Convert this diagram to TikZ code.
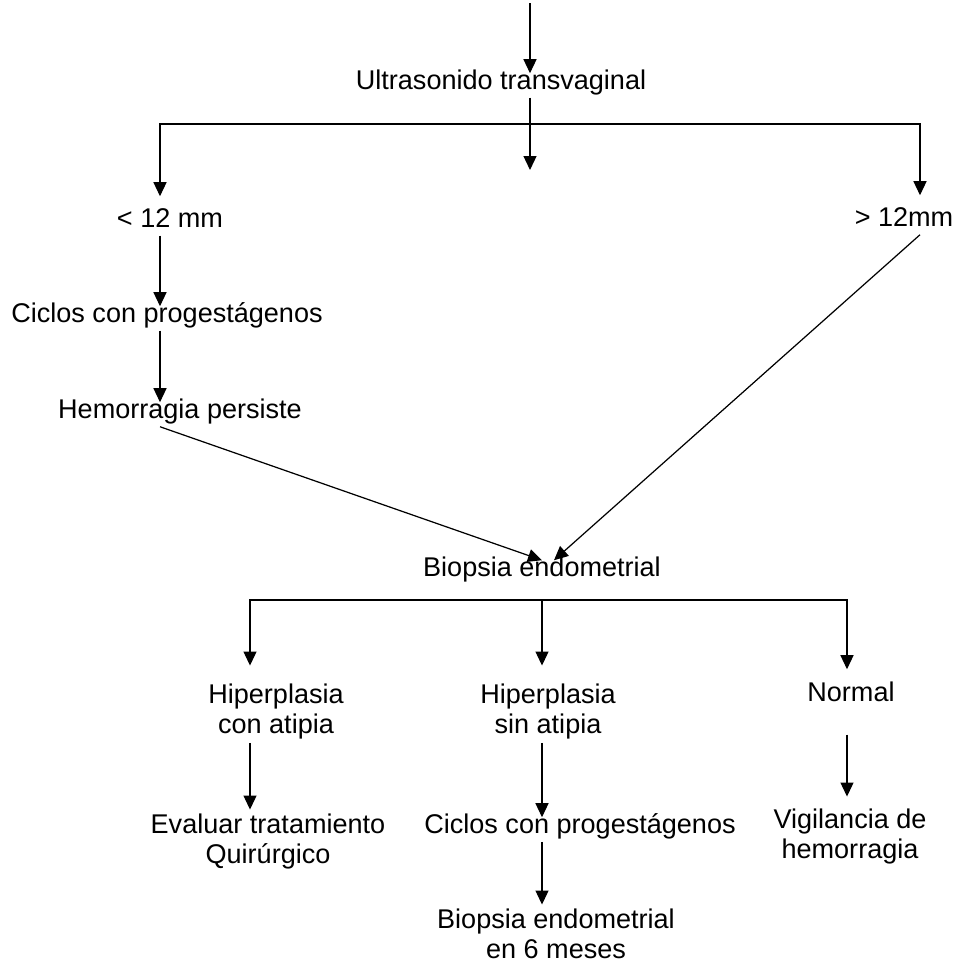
\documentclass[tikz,border=0pt]{standalone}
\usepackage{fontspec}
\setmainfont{Liberation Sans}
\usepackage{tikz}
\usetikzlibrary{arrows.meta,positioning}

\begin{document}
\begin{tikzpicture}[x=0.02cm, y=-0.02cm,
  every node/.style={font=\fontsize{15.4}{16.8}\selectfont},
  paso/.style={anchor=base, inner sep=0.08cm, text height=0.65em, text depth=0.25em},
  dos/.style={anchor=base, inner sep=0.08cm, align=center},
  arr/.style={-{Triangle[length=2.8mm,width=2.6mm]}, line width=0.7pt},
  barra/.style={line width=0.7pt},
]
\useasboundingbox (0,0) rectangle (956,964);

% Lanes of the vertical arrows
\coordinate (inicio) at (530,3);
\coordinate (rama1) at (530,124);
\coordinate (centro) at (530,170);
\coordinate (ejeI) at (160,0);
\coordinate (ejeD) at (920,0);
\coordinate (rama2) at (542,600);
\coordinate (ejeA) at (250,0);
\coordinate (ejeB) at (542,0);
\coordinate (ejeC) at (847,0);

% Upper part
\node[paso] (ultra) at (501,89) {Ultrasonido transvaginal};
\node[paso] (menor) at (170,227) {< 12 mm};
\node[paso] (mayor) at (904,226) {> 12mm};
\node[paso] (ciclos) at (167,322) {Ciclos con progestágenos};
\node[paso] (hemo) at (180,418) {Hemorragia persiste};
\node[paso] (biopsia) at (542,576) {Biopsia endometrial};

% Lower part (two-line nodes sit on their last line)
\node[dos] (conat) at (276,733) {Hiperplasia\\con atipia};
\node[dos] (sinat) at (548,733) {Hiperplasia\\sin atipia};
\node[paso] (normal) at (851,701) {Normal};
\node[dos] (evaluar) at (268,863) {Evaluar tratamiento\\Quirúrgico};
\node[paso] (ciclosb) at (580,833) {Ciclos con progestágenos};
\node[dos] (vigil) at (850,858) {Vigilancia de\\hemorragia};
\node[dos] (biopsiab) at (556,958) {Biopsia endometrial\\en 6 meses};

% Arrows
\draw[arr] (inicio) -- (ultra.north -| inicio);
\draw[barra] (ultra.south -| inicio) -- (rama1);
\draw[arr] (rama1) -- (centro);
\draw[arr, shorten >=0.3cm] (rama1) -| (menor.north -| ejeI);
\draw[arr, shorten >=0.3cm] (rama1) -| (mayor.north -| ejeD);
\draw[arr] (menor.south -| ejeI) -- (ciclos.north -| ejeI);
\draw[arr] (ciclos.south -| ejeI) -- (hemo.north -| ejeI);
\draw[arr] ([xshift=-0.4cm]hemo.south) -- (biopsia.north);
\draw[arr] (mayor.south -| ejeD) -- ([xshift=0.24cm]biopsia.north);

\draw[arr, shorten >=0.28cm] (rama2) -| (conat.north -| ejeA);
\draw[arr, shorten >=0.28cm] (rama2) -- (sinat.north -| ejeB);
\draw[arr, shorten >=0.32cm] (rama2) -| (normal.north -| ejeC);
\draw[arr] (conat.south -| ejeA) -- (evaluar.north -| ejeA);
\draw[arr] (sinat.south -| ejeB) -- (ciclosb.north -| ejeB);
\draw[arr, shorten <=0.5cm, shorten >=0.16cm] (normal.south -| ejeC) -- (vigil.north -| ejeC);
\draw[arr] (ciclosb.south -| ejeB) -- (biopsiab.north -| ejeB);

\end{tikzpicture}
\end{document}
